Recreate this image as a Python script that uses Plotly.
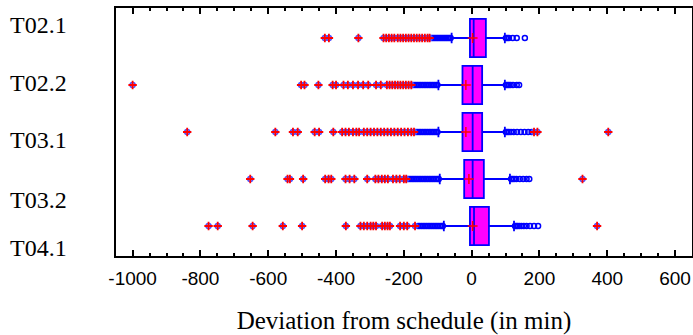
import plotly.graph_objects as go

# route labels, top to bottom
routes = ["T02.1", "T02.2", "T03.1", "T03.2", "T04.1"]

# box statistics (min)
q1 = [-5, -27, -27, -22, -5]
median = [6, 3, 3, 3, 7]
q3 = [42, 31, 31, 36, 51]
lower_fence = [-59, -98, -98, -94, -82]
upper_fence = [98, 98, 98, 113, 125]
mean = [3, -17, -17, -8, 3]

# mild outliers (blue circles)
mild = {
    "T02.1": [-122, -118, -114, -110, -106, -102, -98, -94, -90, -86, -82, -78, -74, -70, -66, -62,
              101, 105, 110, 121, 133, 157],
    "T02.2": [-175, -170, -165, -160, -155, -150, -145, -140, -135, -130, -125, -120, -115, -110, -105, -101,
              101, 105, 110, 115, 122, 133, 140],
    "T03.1": [-165, -160, -155, -150, -145, -140, -135, -130, -125, -120, -115, -110, -105, -101,
              101, 105, 110, 116, 124, 134, 145, 156, 167, 177],
    "T03.2": [-190, -185, -180, -175, -170, -165, -160, -155, -150, -145, -140, -135, -130, -125, -120,
              -115, -110, -105, -100, -97,
              116, 120, 125, 132, 142, 152, 162, 170],
    "T04.1": [-158, -153, -148, -143, -138, -133, -128, -123, -118, -113, -108, -103, -98, -93, -88, -85,
              128, 132, 136, 141, 147, 154, 162, 172, 184, 196],
}

# extreme outliers (red crosses)
extreme = {
    "T02.1": [-433, -421, -334, -260, -252, -244, -236, -228, -218, -210, -202, -194, -186, -178, -170,
              -162, -154, -146, -138, -130, -124],
    "T02.2": [-1000, -503, -493, -452, -410, -400, -378, -365, -350, -335, -320, -305, -282, -268, -250,
              -242, -234, -226, -218, -210, -202, -194, -186, -178],
    "T03.1": [-839, -579, -527, -513, -463, -450, -408, -382, -372, -362, -350, -340, -332, -318, -308,
              -298, -288, -278, -268, -258, -248, -238, -228, -218, -208, -198, -188, -178, -170,
              184, 194, 403],
    "T03.2": [-653, -543, -536, -497, -432, -422, -414, -372, -360, -346, -308, -284, -275, -265, -256,
              -247, -232, -222, -212, -200, -193, 327],
    "T04.1": [-776, -749, -646, -557, -500, -371, -328, -318, -308, -298, -290, -282, -264, -256, -248,
              -241, -211, -200, -190, -167, 370],
}

x_ticks = [-1000, -800, -600, -400, -200, 0, 200, 400, 600]
x_tick_text = ["-1000", "-800", "-600", "-400", "-200", "0", "200", "400", "600"]

pos = list(range(len(routes)))
BLUE = "#0000FF"
RED = "#FF0000"

fig = go.Figure()

fig.add_trace(go.Box(
    y=pos, q1=q1, median=median, q3=q3,
    lowerfence=lower_fence, upperfence=upper_fence,
    orientation="h", boxpoints=False, width=0.81, whiskerwidth=0.27,
    fillcolor="#FF00FF", line=dict(color=BLUE, width=1.8),
    showlegend=False, hoverinfo="skip",
))

mx, my = [], []
for i, r in enumerate(routes):
    mx += mild[r]
    my += [i] * len(mild[r])
fig.add_trace(go.Scatter(
    x=mx, y=my, mode="markers", showlegend=False,
    marker=dict(symbol="circle-open", size=5, color=BLUE, line=dict(width=1.5)),
))

ex, ey = [], []
for i, r in enumerate(routes):
    ex += extreme[r]
    ey += [i] * len(extreme[r])
fig.add_trace(go.Scatter(
    x=ex, y=ey, mode="markers", showlegend=False,
    marker=dict(symbol="circle-open", size=5, color="#5050FF", line=dict(width=1.5)),
))
fig.add_trace(go.Scatter(
    x=ex, y=ey, mode="markers", showlegend=False,
    marker=dict(symbol="cross-thin", size=6, color=RED, line=dict(width=1.8, color=RED)),
))

# mean markers
fig.add_trace(go.Scatter(
    x=mean, y=pos, mode="markers", showlegend=False,
    marker=dict(symbol="cross-thin", size=7, color=RED, line=dict(width=1.5, color=RED)),
))

# route labels on the left
label_y = [0.933, 0.698, 0.468, 0.226, 0.034]
for name, yy in zip(routes, label_y):
    fig.add_annotation(
        text=name, xref="paper", yref="paper", x=-0.1875, y=yy,
        xanchor="left", yanchor="middle", showarrow=False,
        font=dict(family="Liberation Serif", size=24, color="black"),
    )

fig.update_xaxes(
    range=[-1049, 650], tickvals=x_ticks, ticktext=x_tick_text,
    ticks="inside", ticklen=6, tickwidth=1.5, tickcolor="black",
    minor=dict(dtick=50, ticks="inside", ticklen=3, tickcolor="black"),
    showline=True, linewidth=2, linecolor="black", mirror="allticks",
    showgrid=False, zeroline=False, ticklabelstandoff=4,
    tickfont=dict(family="Liberation Sans", size=19, color="black"),
    title=dict(text="Deviation from schedule (in min)", standoff=26,
               font=dict(family="Liberation Serif", size=25, color="black")),
)
fig.update_yaxes(
    range=[4.638, -0.638], showticklabels=False, ticks="",
    showline=True, linewidth=2, linecolor="black", mirror=True,
    showgrid=False, zeroline=False,
)

fig.update_layout(
    width=693, height=335,
    margin=dict(l=116, r=1, t=8, b=79, autoexpand=False),
    plot_bgcolor="white", paper_bgcolor="white",
)

# page has a default body margin; drop it so the figure sits at the corner
fig.write_html("out.html", config={"displayModeBar": False},
               post_script="document.body.style.margin='0';")
